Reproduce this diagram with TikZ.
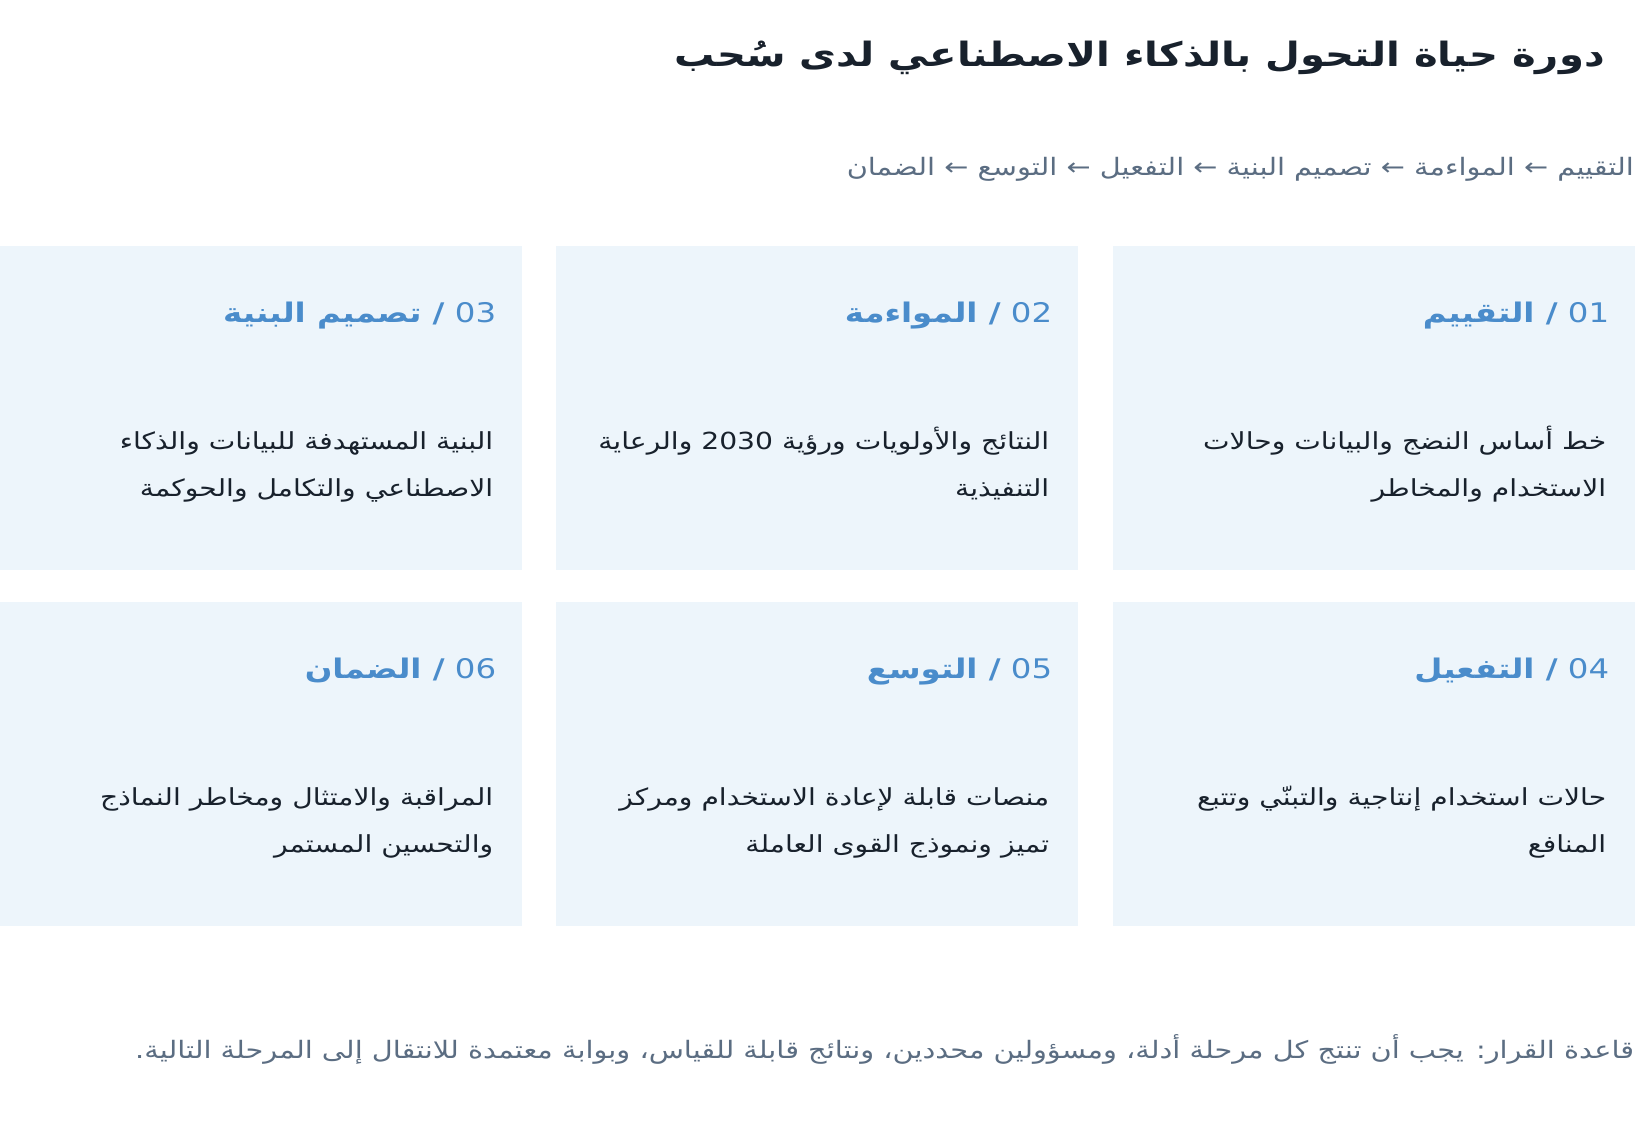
\documentclass[tikz,border=0pt]{standalone}
\usepackage{fontspec}
\TeXXeTstate=1
\newfontfamily\arabicfont[Script=Arabic, FakeStretch=1.2]{DejaVu Sans}
\definecolor{cardfill}{HTML}{EDF5FB}
\definecolor{stepblue}{HTML}{4A8CCB}
\definecolor{inkdark}{HTML}{18212C}
\definecolor{slategray}{HTML}{5B6D82}

\begin{document}
\begin{tikzpicture}[x=1pt, y=-1pt,
    card/.style={fill=cardfill, draw=none, inner sep=0pt, anchor=north west,
      minimum width=522pt, minimum height=324pt},
    cardhead/.style={anchor=base east, inner sep=0pt, text=stepblue,
      font=\arabicfont\fontsize{27}{32}\selectfont},
    cardbody/.style={anchor=base east, inner sep=0pt, align=right, text=inkdark,
      font=\arabicfont\fontsize{23.5}{47}\selectfont},
    note/.style={anchor=base east, inner sep=0pt, text=slategray,
      font=\arabicfont\fontsize{24}{28}\selectfont}]
      \useasboundingbox (0,0) rectangle (1636,1136);

      % title and flow line
      \node[anchor=base east, inner sep=0pt, text=inkdark, font=\arabicfont\bfseries\fontsize{33.5}{40}\selectfont] (title) at (1605,66) {\beginR دورة حياة التحول بالذكاء الاصطناعي لدى سُحب\endR};
      \node[note] (flow) at (1634,175) {\beginR التقييم ← المواءمة ← تصميم البنية ← التفعيل ← التوسع ← الضمان\endR};

      % the six stages
      \node[card] (card1) at (1113,246) {};
      \node[card] (card2) at (556,246) {};
      \node[card] (card3) at (0,246) {};
      \node[card] (card4) at (1113,602) {};
      \node[card] (card5) at (556,602) {};
      \node[card] (card6) at (0,602) {};

      \node[cardhead] (head1) at ([shift={(-26pt,-76pt)}]card1.north east) {\beginR 01 {\bfseries / التقييم}\endR};
      \node[cardhead] (head2) at ([shift={(-26pt,-76pt)}]card2.north east) {\beginR 02 {\bfseries / المواءمة}\endR};
      \node[cardhead] (head3) at ([shift={(-26pt,-76pt)}]card3.north east) {\beginR 03 {\bfseries / تصميم البنية}\endR};
      \node[cardhead] (head4) at ([shift={(-26pt,-76pt)}]card4.north east) {\beginR 04 {\bfseries / التفعيل}\endR};
      \node[cardhead] (head5) at ([shift={(-26pt,-76pt)}]card5.north east) {\beginR 05 {\bfseries / التوسع}\endR};
      \node[cardhead] (head6) at ([shift={(-26pt,-76pt)}]card6.north east) {\beginR 06 {\bfseries / الضمان}\endR};

      % body text, anchored on the last line
      \node[cardbody] (body1) at ([shift={(-29pt,-250pt)}]card1.north east) {\beginR خط أساس النضج والبيانات وحالات\endR\\\beginR الاستخدام والمخاطر\endR};
      \node[cardbody] (body2) at ([shift={(-29pt,-250pt)}]card2.north east) {\beginR النتائج والأولويات ورؤية 2030 والرعاية\endR\\\beginR التنفيذية\endR};
      \node[cardbody] (body3) at ([shift={(-29pt,-250pt)}]card3.north east) {\beginR البنية المستهدفة للبيانات والذكاء\endR\\\beginR الاصطناعي والتكامل والحوكمة\endR};
      \node[cardbody] (body4) at ([shift={(-29pt,-250pt)}]card4.north east) {\beginR حالات استخدام إنتاجية والتبنّي وتتبع\endR\\\beginR المنافع\endR};
      \node[cardbody] (body5) at ([shift={(-29pt,-250pt)}]card5.north east) {\beginR منصات قابلة لإعادة الاستخدام ومركز\endR\\\beginR تميز ونموذج القوى العاملة\endR};
      \node[cardbody] (body6) at ([shift={(-29pt,-250pt)}]card6.north east) {\beginR المراقبة والامتثال ومخاطر النماذج\endR\\\beginR والتحسين المستمر\endR};

      % decision rule
      \node[note] (rule) at (1634,1058) {\beginR قاعدة القرار: يجب أن تنتج كل مرحلة أدلة، ومسؤولين محددين، ونتائج قابلة للقياس، وبوابة معتمدة للانتقال إلى المرحلة التالية.\endR};
\end{tikzpicture}
\end{document}
